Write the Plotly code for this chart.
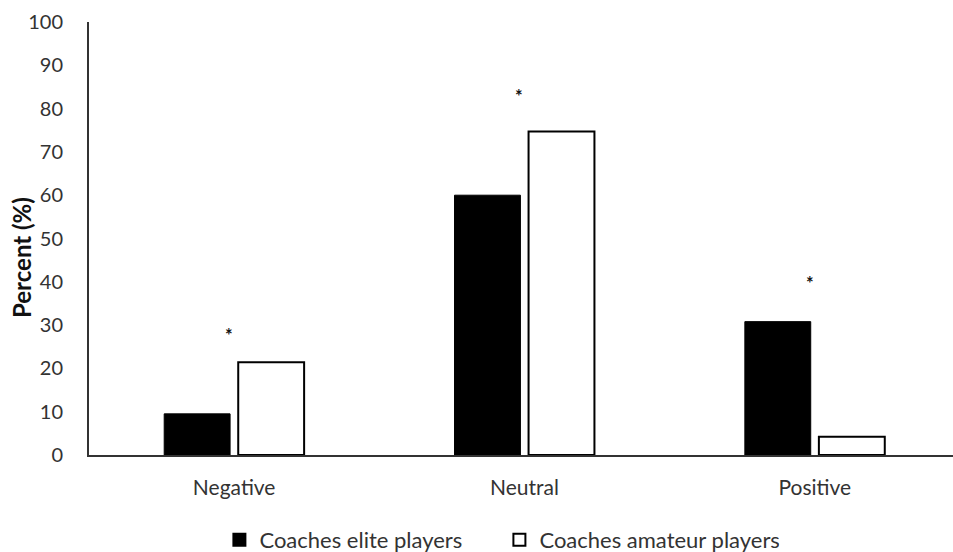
import plotly.graph_objects as go

categories = ["Negative", "Neutral", "Positive"]
elite = [9.5, 60.0, 30.8]
amateur = [21.4, 74.7, 4.2]
star_levels = [27.7, 83.0, 39.7]
y_ticks = [0, 10, 20, 30, 40, 50, 60, 70, 80, 90, 100]

FONT = "Lato, Carlito, 'Open Sans', sans-serif"
TEXT = "#333333"

fig = go.Figure()
fig.add_trace(go.Bar(
    x=categories, y=elite, name="Coaches elite players",
    marker=dict(color="black", line=dict(color="black", width=1)),
))
fig.add_trace(go.Bar(
    x=categories, y=amateur, name="Coaches amateur players",
    marker=dict(color="white", line=dict(color="black", width=2)),
))

# significance markers above each category
for cat, lvl in zip(categories, star_levels):
    fig.add_annotation(x=cat, y=lvl, text="<b>*</b>", showarrow=False, xshift=-5,
                       font=dict(size=18, color="#111111", family=FONT))

# y-axis title placed as a rotated annotation
fig.add_annotation(xref="paper", yref="y", x=0, y=45.5, xshift=-67,
                   xanchor="center", yanchor="middle",
                   text="<b>Percent (%)</b>", textangle=-90, showarrow=False,
                   font=dict(size=24, color="#111111", family=FONT))

fig.update_layout(
    width=953, height=552,
    margin=dict(l=89, r=0, t=22, b=97),
    plot_bgcolor="white", paper_bgcolor="white",
    barmode="group", bargap=0.49, bargroupgap=0.11,
    font=dict(family=FONT, size=20, color=TEXT),
    showlegend=True,
    legend=dict(orientation="h", x=0.475, xanchor="center",
                yref="container", y=12 / 552, yanchor="middle",
                font=dict(size=22, color=TEXT), itemsizing="constant",
                itemwidth=30, entrywidth=235),
)
fig.update_xaxes(
    range=[-0.5, 2.476], showline=True, linecolor="#333333", linewidth=2,
    ticks="", showgrid=False, ticklabelstandoff=13,
    tickfont=dict(size=21, color=TEXT),
)
fig.update_yaxes(
    range=[0, 100], tickvals=y_ticks, showline=True, linecolor="#333333", linewidth=2,
    ticks="", showgrid=False, zeroline=False, ticklabelstandoff=20,
    tickfont=dict(size=20, color=TEXT),
)

fig.write_html("out.html")
